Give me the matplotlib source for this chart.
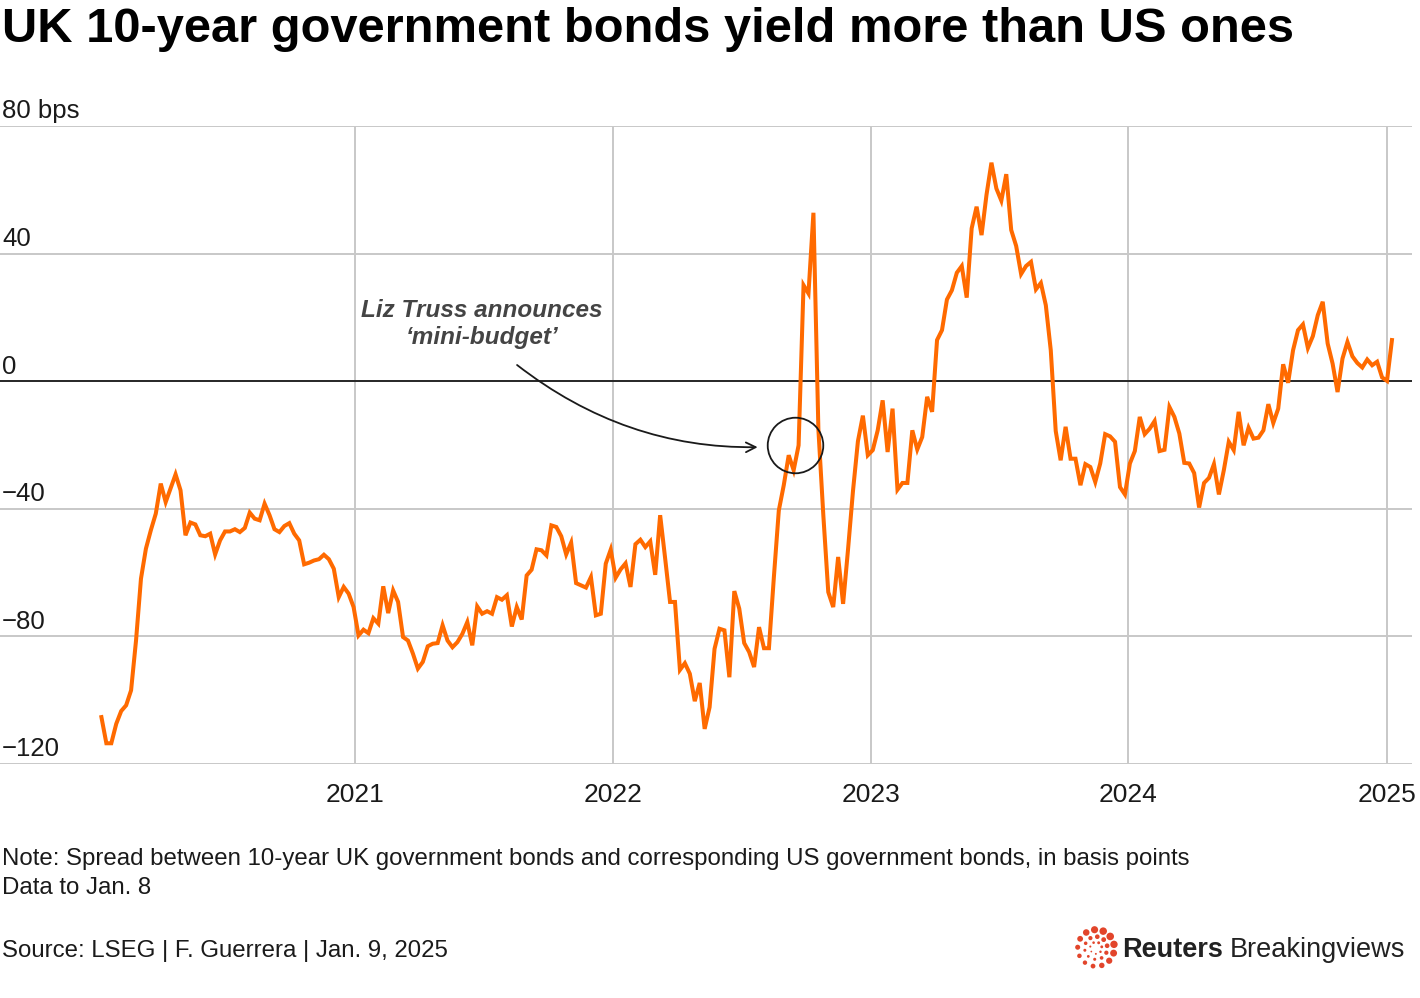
import matplotlib
matplotlib.use("Agg")
import matplotlib.pyplot as plt
import matplotlib.dates as mdates
import matplotlib.transforms as mtransforms
import numpy as np
import pandas as pd

# ── Palette ────────────────────────────────────────────────────────────────────
ORANGE = "#FF6A00"
GRID = "#C8C8C8"
INK = "#1A1A1A"
NOTE_INK = "#444444"
LOGO_RED = "#E2452B"

plt.rcParams["font.family"] = ["Liberation Sans", "DejaVu Sans"]

# ── Data: UK minus US 10-year yield spread, weekly, bps ───────────────────────
first_week = "2020-01-08"
last_week = "2025-01-08"
spread_bps = [
    -105.3, -113.5, -113.5, -107.4, -103.4, -101.6, -96.9, -81.3, -61.9, -52.5,
    -46.7, -41.5, -32.1, -37.9, -33.5, -29.2, -34.2, -48.3, -44.3, -44.9,
    -48.3, -48.6, -47.8, -54.3, -49.9, -47.1, -47.1, -46.4, -47.3, -46.0,
    -41.2, -43.1, -43.6, -38.4, -42.0, -46.4, -47.3, -45.4, -44.5, -47.8,
    -49.9, -57.4, -56.9, -56.2, -55.8, -54.4, -55.8, -58.8, -67.7, -64.5,
    -66.6, -70.8, -79.7, -77.9, -79.0, -74.3, -76.0, -64.3, -72.7, -65.6,
    -69.2, -80.2, -81.3, -85.4, -90.1, -88.0, -83.1, -82.3, -82.1, -76.5,
    -81.3, -83.4, -81.8, -79.2, -75.5, -82.8, -70.6, -72.9, -72.1, -72.9,
    -67.7, -68.5, -67.1, -76.9, -70.8, -74.7, -60.9, -59.1, -52.7, -53.0,
    -54.6, -45.2, -45.7, -48.6, -54.3, -50.6, -63.3, -64.0, -64.7, -61.4,
    -73.4, -72.9, -57.2, -52.8, -61.6, -59.0, -57.1, -64.5, -51.1, -49.7,
    -52.0, -50.2, -60.7, -42.0, -55.4, -69.2, -69.2, -90.5, -88.4, -91.7,
    -100.3, -94.6, -109.0, -102.2, -83.9, -77.6, -78.1, -92.8, -65.8, -71.3,
    -82.1, -84.9, -89.6, -77.1, -83.7, -83.7, -61.4, -40.5, -32.6, -23.2,
    -27.9, -20.1, 30.1, 27.5, 52.8, -15.0, -42.0, -66.1, -70.8, -55.1,
    -69.8, -52.7, -34.4, -18.8, -10.8, -23.2, -21.6, -15.4, -6.0, -22.2,
    -8.6, -34.0, -31.9, -31.9, -15.4, -21.4, -17.5, -4.9, -9.6, 12.9,
    16.0, 25.6, 28.5, 34.0, 36.1, 26.2, 47.9, 54.7, 45.8, 58.4,
    68.5, 60.4, 56.6, 64.9, 47.4, 42.4, 33.6, 36.1, 37.4, 28.8,
    30.8, 23.8, 9.7, -15.6, -24.8, -14.3, -24.3, -24.3, -32.6, -26.0,
    -26.9, -31.6, -25.8, -16.6, -17.3, -19.0, -33.2, -35.5, -25.8, -21.9,
    -11.2, -16.6, -14.9, -12.5, -21.9, -21.5, -8.1, -11.2, -16.4, -25.6,
    -25.8, -28.8, -39.6, -31.9, -30.3, -26.0, -35.5, -27.9, -19.0, -21.6,
    -9.6, -20.1, -14.6, -18.0, -17.7, -15.4, -7.2, -13.1, -8.6, 5.3,
    -0.5, 9.7, 16.0, 17.8, 10.4, 14.1, 20.7, 24.9, 11.8, 5.5,
    -3.4, 7.1, 12.3, 7.8, 5.7, 4.3, 6.8, 5.0, 6.1, 1.2,
    0.1, 12.9,
]
weeks = pd.date_range(first_week, last_week, freq="7D")

year_ticks = ["2021-01-01", "2022-01-01", "2023-01-01", "2024-01-01", "2025-01-01"]
year_labels = ["2021", "2022", "2023", "2024", "2025"]
y_ticks = [-120, -80, -40, 0, 40, 80]
y_labels = ["\u2212120", "\u221280", "\u221240", "0", "40", "80 bps"]

event_date = "2022-09-16"
event_level = -20

# ── Figure ─────────────────────────────────────────────────────────────────────
W, H = 1420, 998
fig = plt.figure(figsize=(W / 100, H / 100), dpi=100)
fig.patch.set_facecolor("white")
ax = fig.add_axes([0, (H - 764) / H, 1412 / W, (764 - 126) / H])

ax.plot(weeks, spread_bps, color=ORANGE, linewidth=2.9, solid_joinstyle="miter",
        zorder=3)

# x range: ~258 px per year, axes spans 0..1412 px with 2021 at px 355
px_per_day = 258 / 365.25
x2021 = mdates.date2num(pd.Timestamp("2021-01-01"))
ax.set_xlim(x2021 - 355 / px_per_day, x2021 + (1412 - 355) / px_per_day)
ax.set_ylim(-120, 80)

for spine in ax.spines.values():
    spine.set_visible(False)

ax.set_yticks(y_ticks)
ax.set_yticklabels([])
ax.tick_params(axis="y", length=0)
ax.grid(axis="y", color=GRID, linewidth=1.4, zorder=1)
ax.axhline(0, color=INK, linewidth=1.3, zorder=2)

ax.set_xticks(pd.to_datetime(year_ticks))
ax.set_xticklabels(year_labels, fontsize=19, color=INK)
ax.tick_params(axis="x", length=0, pad=14)
ax.grid(axis="x", color=GRID, linewidth=1.4, zorder=1)

# y labels sit above their gridlines, flush left
ytrans = mtransforms.blended_transform_factory(ax.transAxes, ax.transData)
for val, lab in zip(y_ticks, y_labels):
    ax.annotate(lab, xy=(0.0015, val), xycoords=ytrans, xytext=(0, 5.5),
                textcoords="offset points", ha="left", va="baseline",
                fontsize=18.5, color=INK)

# ── Mini-budget annotation ─────────────────────────────────────────────────────
ev = pd.Timestamp(event_date)
ax.plot([ev], [event_level], marker="o", markersize=40, markerfacecolor="none",
        markeredgecolor=INK, markeredgewidth=1.3, zorder=4)
ax.annotate("", xy=(ev, event_level), xycoords="data",
            xytext=(-278, 80), textcoords="offset pixels",
            arrowprops=dict(arrowstyle="->,head_length=0.7,head_width=0.35",
                            color=INK, lw=1.3, shrinkA=0, shrinkB=27,
                            connectionstyle="arc3,rad=0.2"))
ax.annotate("Liz Truss announces\n\u2018mini-budget\u2019", xy=(ev, event_level),
            xycoords="data", xytext=(-313, 121), textcoords="offset pixels",
            ha="center", va="center", fontsize=17.5, style="italic",
            fontweight="bold", color=NOTE_INK, linespacing=1.2)

# ── Title and footer ───────────────────────────────────────────────────────────
fig.text(0.0015, (H - 42) / H, "UK 10-year government bonds yield more than US ones",
         fontsize=35.2, fontweight="bold", color="black", va="baseline")

fig.text(0.0015, (H - 865) / H,
         "Note: Spread between 10-year UK government bonds and corresponding US "
         "government bonds, in basis points",
         fontsize=17.3, color=INK, va="baseline")
fig.text(0.0015, (H - 894) / H, "Data to Jan. 8", fontsize=17.3, color=INK,
         va="baseline")
fig.text(0.0015, (H - 957) / H, "Source: LSEG | F. Guerrera | Jan. 9, 2025",
         fontsize=17.3, color=INK, va="baseline")

# Reuters Breakingviews wordmark
fig.text(1122 / W, (H - 957) / H, "Reuters", fontsize=19.5, fontweight="bold",
         color="#222222", va="baseline", ha="left")
fig.text(1405 / W, (H - 957) / H, "Breakingviews", fontsize=19.5, color="#222222",
         va="baseline", ha="right")

logo = fig.add_axes([1074 / W, (H - 970) / H, 44 / W, 44 / H])
logo.set_xlim(-1.2, 1.2)
logo.set_ylim(-1.2, 1.2)
logo.axis("off")
for radius, count, size in [(1.0, 13, 20), (0.62, 10, 8), (0.32, 7, 3)]:
    ang = np.linspace(0, 2 * np.pi, count, endpoint=False) + 0.2
    sizes = size * (1.0 + 0.5 * np.cos(ang - np.pi / 4))
    logo.scatter(radius * np.cos(ang), radius * np.sin(ang), s=sizes,
                 color=LOGO_RED, linewidths=0)

fig.savefig("out.png", dpi=100, facecolor="white")
